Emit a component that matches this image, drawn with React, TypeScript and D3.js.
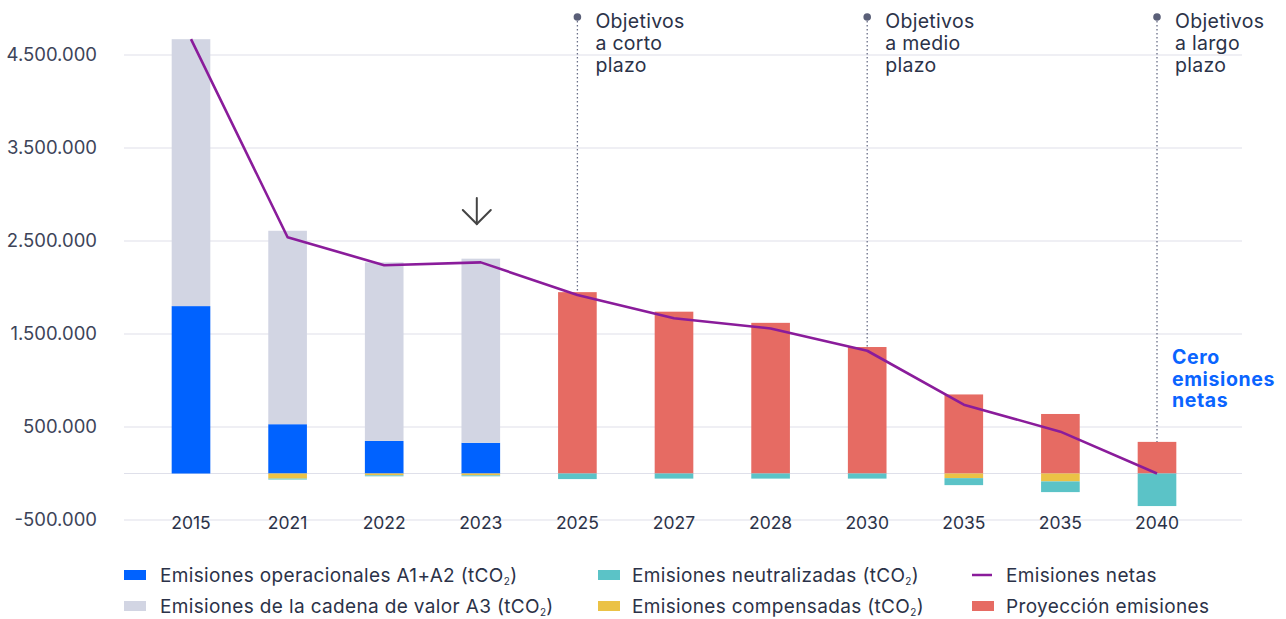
import React from 'react';
import * as d3 from 'd3';

// categories (note: 2035 appears twice in the original)
const years = ['2015', '2021', '2022', '2023', '2025', '2027', '2028', '2030', '2035', '2035', '2040'];
// stacked positive parts
const operacionales = [1800000, 530000, 350000, 330000, 0, 0, 0, 0, 0, 0, 0];
const cadenaValor = [2870000, 2080000, 1920000, 1980000, 0, 0, 0, 0, 0, 0, 0];
const proyeccion = [0, 0, 0, 0, 1950000, 1740000, 1620000, 1360000, 850000, 640000, 340000];
// negative parts
const compensadas = [0, -55000, -20000, -20000, 0, 0, 0, 0, -50000, -85000, 0];
const neutralizadas = [0, -10000, -10000, -10000, -60000, -55000, -55000, -55000, -75000, -115000, -350000];
// net emissions line
const netas = [4670000, 2540000, 2240000, 2270000, 1920000, 1670000, 1560000, 1320000, 740000, 450000, 0];

const yTicks = [4500000, 3500000, 2500000, 1500000, 500000, -500000];
const targets = [
  { idx: 4, lines: ['Objetivos', 'a corto', 'plazo'] },
  { idx: 7, lines: ['Objetivos', 'a medio', 'plazo'] },
  { idx: 10, lines: ['Objetivos', 'a largo', 'plazo'] },
];

const C = {
  blue: '#0062ff',
  gray: '#d2d5e3',
  red: '#e66b63',
  teal: '#5bc3c7',
  yellow: '#ebc246',
  line: '#8a1c9b',
  text: '#2b3248',
  grid: '#dfe0ea',
};

const font = 'Inter, "Noto Sans", sans-serif';

export default function App() {
  const width = 1286;
  const height = 619;

  const x = d3.scaleBand<number>()
    .domain(d3.range(years.length))
    .range([142.7, 1205.3])
    .paddingInner(0.6)
    .paddingOuter(0.3);
  const y = d3.scaleLinear().domain([-500000, 4500000]).range([520, 55]);
  const bw = x.bandwidth();
  const cx = (i: number) => (x(i) as number) + bw / 2;

  const line = d3.line<number>()
    .x((_, i) => cx(i))
    .y((d) => y(d));

  const fmt = (v: number) => d3.format(',')(v).replace(/,/g, '.').replace('\u2212', '-');

  const rect = (i: number, v0: number, v1: number, fill: string, key: string) => {
    if (v0 === v1) return null;
    const top = y(Math.max(v0, v1));
    const bot = y(Math.min(v0, v1));
    return <rect key={key} x={x(i)} y={top} width={bw} height={bot - top} fill={fill} />;
  };

  const legend = [
    { type: 'rect', color: C.blue, label: 'Emisiones operacionales A1+A2 (tCO', sub: true, x: 124, tx: 160, y: 575 },
    { type: 'rect', color: C.gray, label: 'Emisiones de la cadena de valor A3 (tCO', sub: true, x: 124, tx: 160, y: 606 },
    { type: 'rect', color: C.teal, label: 'Emisiones neutralizadas (tCO', sub: true, x: 598, tx: 632, y: 575 },
    { type: 'rect', color: C.yellow, label: 'Emisiones compensadas (tCO', sub: true, x: 598, tx: 632, y: 606 },
    { type: 'line', color: C.line, label: 'Emisiones netas', sub: false, x: 972, tx: 1006, y: 575 },
    { type: 'rect', color: C.red, label: 'Proyección emisiones', sub: false, x: 972, tx: 1006, y: 606 },
  ];

  return (
    <svg width={width} height={height} style={{ position: 'absolute', left: 0, top: 0, background: '#fff' }}
      fontFamily={font}>
      {/* grid */}
      {[...yTicks, 0].map((t) => (
        <line key={'g' + t} x1={124} x2={1242} y1={y(t)} y2={y(t)} stroke={C.grid} strokeWidth={1.2} />
      ))}
      {yTicks.map((t) => (
        <text key={'t' + t} x={97} y={y(t)} dy="0.35em" textAnchor="end" fontSize={18.5} fill="#3d4459">
          {fmt(t)}
        </text>
      ))}

      {/* bars */}
      {years.map((_, i) => (
        <g key={'b' + i}>
          {rect(i, 0, operacionales[i], C.blue, 'o')}
          {rect(i, operacionales[i], operacionales[i] + cadenaValor[i], C.gray, 'c')}
          {rect(i, 0, proyeccion[i], C.red, 'p')}
          {rect(i, 0, compensadas[i], C.yellow, 'y')}
          {rect(i, compensadas[i], compensadas[i] + neutralizadas[i], C.teal, 'n')}
        </g>
      ))}

      {/* target annotations */}
      {targets.map((t) => {
        const top = y(proyeccion[t.idx]);
        return (
          <g key={'tg' + t.idx}>
            <line x1={cx(t.idx)} x2={cx(t.idx)} y1={17} y2={top} stroke="#6a6f88" strokeWidth={1.3}
              strokeDasharray="1.5 2.5" />
            <circle cx={cx(t.idx)} cy={17} r={3.8} fill="#5a5f78" />
            {t.lines.map((l, k) => (
              <text key={k} x={cx(t.idx) + 18} y={28 + k * 22} fontSize={19.5} letterSpacing={0.3}
                fill={C.text}>{l}</text>
            ))}
          </g>
        );
      })}

      {/* net emissions line */}
      <path d={line(netas) || ''} fill="none" stroke={C.line} strokeWidth={2.6} strokeLinejoin="round" />

      {/* arrow above 2023 */}
      <g stroke="#444" strokeWidth={2} fill="none" strokeLinecap="round">
        <line x1={cx(3) - 4} x2={cx(3) - 4} y1={198} y2={224} />
        <path d={`M${cx(3) - 18},${210} L${cx(3) - 4},${224} L${cx(3) + 10},${210}`} />
      </g>

      {/* zero net label */}
      {['Cero', 'emisiones', 'netas'].map((l, k) => (
        <text key={'z' + k} x={1172} y={364 + k * 21.5} fontSize={19.5} letterSpacing={0.6}
          fontWeight={700} fill="#0a64ff">{l}</text>
      ))}

      {/* x labels */}
      {years.map((yr, i) => (
        <text key={'x' + i} x={cx(i)} y={523} dy="0.35em" textAnchor="middle" fontSize={17.5} fill={C.text}>{yr}</text>
      ))}

      {/* legend */}
      {legend.map((l, k) => (
        <g key={'l' + k}>
          {l.type === 'rect'
            ? <rect x={l.x} y={l.y - 5} width={22} height={10} fill={l.color} />
            : <line x1={l.x} x2={l.x + 20} y1={l.y} y2={l.y} stroke={l.color} strokeWidth={2.5} />}
          <text x={l.tx} y={l.y} dy="0.35em" fontSize={19} letterSpacing={0.35} fill={C.text}>
            {l.label}
            {l.sub && <tspan fontSize={10} dy={3}>2</tspan>}
            {l.sub && <tspan dy={-3}>)</tspan>}
          </text>
        </g>
      ))}
    </svg>
  );
}
